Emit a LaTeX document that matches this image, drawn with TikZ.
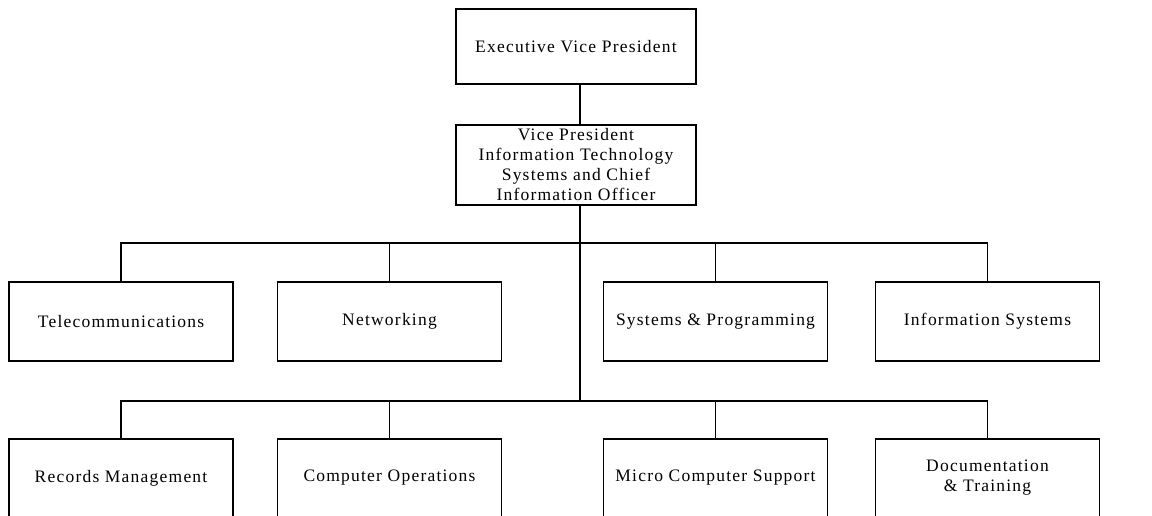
\documentclass[tikz,border=0pt]{standalone}
\usepackage{fontspec}
\setmainfont{Liberation Serif}[LetterSpace=7]
\begin{document}
\begin{tikzpicture}[x=1pt,y=-1pt,
  unitbox/.style={draw=black, line width=1.4pt, rectangle, inner sep=0pt,
    minimum width=224pt, minimum height=79pt, align=center,
    font=\fontsize{17.5}{20}\selectfont},
  headbox/.style={unitbox, minimum width=240pt},
  link/.style={draw=black, line width=1.4pt}]
  \useasboundingbox (0,0) rectangle (1152,516);
  \begin{scope}
  \clip (0,0) rectangle (1152,516);

  % executive level
  \node[headbox, minimum height=75pt] (evp) at (576,46.5) {Executive Vice President};
  \node[headbox, minimum height=80pt] (vp) at (576,165)
    {Vice President\\Information Technology\\Systems and Chief\\Information Officer};

  % first row of departments
  \node[unitbox] (tel) at (121,321.5) {Telecommunications};
  \node[unitbox] (net) at (389.5,321.5) {Networking};
  \node[unitbox] (sp)  at (715.5,321.5) {Systems \& Programming};
  \node[unitbox] (is)  at (987.5,321.5) {Information Systems};

  % second row of departments
  \node[unitbox, minimum height=78pt] (rm)  at (121,478) {Records Management};
  \node[unitbox, minimum height=78pt] (co)  at (389.5,478) {Computer Operations};
  \node[unitbox, minimum height=78pt] (mcs) at (715.5,478) {Micro Computer Support};
  \node[unitbox, minimum height=78pt] (dt)  at (987.5,478) {Documentation\\\& Training};

  % bus junctions on the main trunk
  \coordinate (bus1) at (580,243);
  \coordinate (bus2) at (580,401);

  \draw[link] (evp.south -| bus1) -- (vp.north -| bus1);
  \draw[link] (vp.south -| bus1) -- (bus2);

  \draw[link] (tel.north) |- (bus1) -| (is.north);
  \draw[link] (net.north) -- (net.north |- bus1);
  \draw[link] (sp.north) -- (sp.north |- bus1);

  \draw[link] (rm.north) |- (bus2) -| (dt.north);
  \draw[link] (co.north) -- (co.north |- bus2);
  \draw[link] (mcs.north) -- (mcs.north |- bus2);
  \end{scope}
\end{tikzpicture}
\end{document}
